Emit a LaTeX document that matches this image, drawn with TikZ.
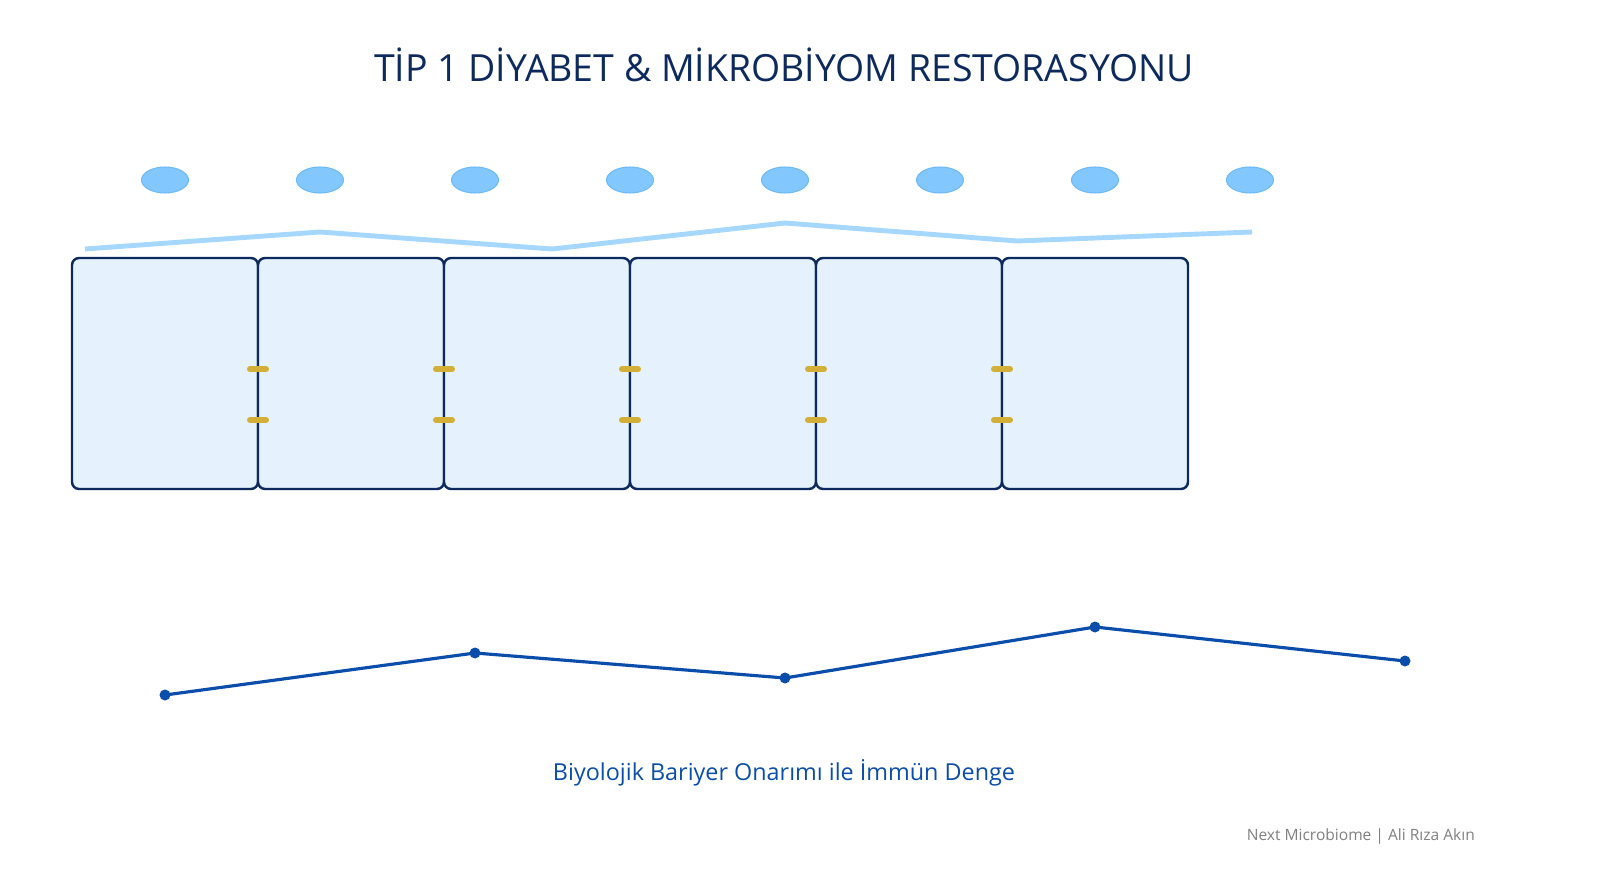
\documentclass[tikz,border=0pt]{standalone}
\usepackage{fontspec}
\setmainfont{Open Sans}
\usetikzlibrary{shapes.geometric}
\begin{document}
\begin{tikzpicture}[x=0.02cm,y=-0.02cm,
  cell/.style={draw=cellb,fill=cellf,line width=1.4pt,rounded corners=4pt},
  bact/.style={ellipse,draw=bactb,fill=bactf,line width=0.6pt,minimum width=0.94cm,minimum height=0.52cm,inner sep=0pt},
  junc/.style={draw=gold,line width=3.4pt,line cap=round},
  dot/.style={circle,fill=lineb,inner sep=0pt,minimum size=0.22cm}]
\definecolor{cellb}{HTML}{0D2A5E}
\definecolor{cellf}{HTML}{E5F1FC}
\definecolor{bactb}{HTML}{6DBAF5}
\definecolor{bactf}{HTML}{82C8FF}
\definecolor{wave}{HTML}{A6D8FF}
\definecolor{gold}{HTML}{D4AF37}
\definecolor{lineb}{HTML}{0B4DAA}
\definecolor{titlec}{HTML}{0D2A5E}
\useasboundingbox (0,0) rectangle (1600,895);
\node[text=titlec,font=\fontsize{21.3}{25}\selectfont] (title) at (784,65) {TİP 1 DİYABET \& MİKROBİYOM RESTORASYONU};
\foreach \i/\x in {1/165,2/320,3/475,4/630,5/785,6/940,7/1095,8/1250}
  \node[bact] (b\i) at (\x,180) {};
\coordinate (w1) at (85,249); \coordinate (w2) at (320,232); \coordinate (w3) at (552,249);
\coordinate (w4) at (785,223); \coordinate (w5) at (1017,241); \coordinate (w6) at (1252,232);
\draw[wave,line width=2.8pt] (w1)--(w2)--(w3)--(w4)--(w5)--(w6);
\foreach \i/\x in {1/72,2/258,3/444,4/630,5/816,6/1002}
  \draw[cell] (\x,258) rectangle (\x+186,489);
\foreach \x in {258,444,630,816,1002}{
  \draw[junc] (\x-8,369)--(\x+8,369);
  \draw[junc] (\x-8,420)--(\x+8,420);}
\node[dot] (p1) at (165,695) {};
\node[dot] (p2) at (475,653) {};
\node[dot] (p3) at (785,678) {};
\node[dot] (p4) at (1095,627) {};
\node[dot] (p5) at (1405,661) {};
\draw[lineb,line width=1.8pt] (p1.center)--(p2.center)--(p3.center)--(p4.center)--(p5.center);
\node[text=lineb,font=\fontsize{13.3}{16}\selectfont] (cap) at (784,773) {Biyolojik Bariyer Onarımı ile İmmün Denge};
\node[text=gray,font=\fontsize{8.85}{10}\selectfont,anchor=east] (foot) at (1481,836) {Next Microbiome | Ali Rıza Akın};
\end{tikzpicture}
\end{document}
